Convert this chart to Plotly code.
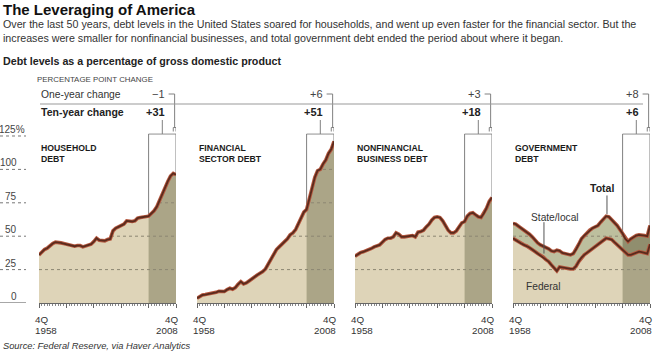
import plotly.graph_objects as go

# ---------------- data (percent of GDP, 4Q of each year) ----------------
YEARS = list(range(1958, 2009))

HOUSEHOLD = [36, 38, 40, 41, 43, 44.5, 45.5, 45.5, 45, 44.5,
             44, 43.5, 43, 42.5, 43, 43, 42, 42.5, 43.5, 44,
             46, 48.5, 47, 46.5, 46.5, 47.5, 48, 54, 56, 57,
             58, 59, 61.5, 61, 61, 61.5, 63.5, 64, 64.5, 64.8,
             65, 67, 69, 72, 77, 82, 87, 91, 95, 97, 96]

FINANCIAL = [3.5, 5, 6, 6.3, 6.6, 7, 7.3, 8, 8.8, 8.7,
             8.6, 10, 11, 10.3, 11.5, 14, 16, 14.3, 15, 16.5,
             17.7, 19.5, 21, 22, 23.5, 25.5, 29, 33, 37, 40,
             42, 44, 46, 48, 51, 52.5, 55, 59, 64, 68,
             70, 78, 87, 94, 99, 100, 104, 107, 112, 115, 121]

NONFINANCIAL = [35, 36.5, 37.7, 38.3, 39, 40, 40.8, 42, 43, 43.5,
                45.5, 47.5, 48.5, 48.5, 49.5, 52.5, 51.5, 49.5, 49.5, 49.8,
                50, 50.5, 49.5, 53, 53.5, 54.5, 57, 59, 62, 64,
                64.5, 64, 61.5, 58, 54.5, 52.5, 52.5, 54, 57, 60,
                61, 65, 67, 67.5, 66, 64.5, 64, 67, 71, 76, 79]

GOV_TOTAL = [59.6, 59, 57.5, 56, 54.5, 53.4, 51.5, 49.5, 47, 45,
             43.5, 42.5, 42, 40.5, 39, 38.5, 39.5, 39, 37.5, 37,
             36.5, 36, 37, 40, 44, 48, 50.5, 52.5, 54.5, 56,
             57, 58, 60.5, 63, 65, 64.5, 62.5, 60, 58, 55,
             52, 48, 46, 48, 49.5, 50.5, 51, 51, 50.5, 50, 58]

GOV_FEDERAL = [48.4, 47, 45.5, 44.5, 43.5, 42.7, 41.5, 40, 38.5, 37,
               36, 34.5, 32.5, 31, 28.5, 26.5, 24, 27, 26.5, 26,
               26, 25.5, 25.5, 27.5, 31, 34, 36, 37.5, 39, 41,
               42.5, 43.5, 45.5, 47, 48.5, 48, 47.5, 45.5, 43.5, 41.5,
               40, 38, 36, 36, 37, 38, 38.5, 38, 37.5, 37, 44]

PANEL_TITLES = ["HOUSEHOLD<br>DEBT", "FINANCIAL<br>SECTOR DEBT",
                "NONFINANCIAL<br>BUSINESS DEBT", "GOVERNMENT<br>DEBT"]
ONE_YEAR = ["\u22121", "+6", "+3", "+8"]
TEN_YEAR = ["+31", "+51", "+18", "+6"]
Y_TICKS = [0, 25, 50, 75, 100, 125]
Y_TICK_TEXT = ["0", "25", "50", "75", "100", "125%"]
GRID_LEVELS = [25, 50, 75, 100]

# ---------------- styling / geometry ----------------
W, H = 660, 353
FONT = "Liberation Sans, Arial, sans-serif"
TAN = "#ded4b8"
TAN_DARK = "#aba587"
BAND = "#bdbf9e"
BAND_DARK = "#908e6e"
LINE_OUT = "#b5583f"
LINE_IN = "#5a2b1d"
GRID_C = "#8c8672"
GRAY = "#808080"

PANEL_PX = [(39, 176), (197, 334), (355, 492), (513, 650)]
Y0_PX, SCALE = 303, 1.336           # pixel of 0 %, pixels per percentage point
Y_MAX = 127
BOX_TOP = 126.5
Y_DOMAIN = [(H - Y0_PX) / H, (H - (Y0_PX - Y_MAX * SCALE)) / H]


def px(x):
    return x / W


def py(y):
    return 1 - y / H


fig = go.Figure()
shapes = []
ann = []

series_list = [HOUSEHOLD, FINANCIAL, NONFINANCIAL, GOV_TOTAL]
start10 = YEARS.index(YEARS[-1] - 10)

for i in range(4):
    xa = "x" if i == 0 else f"x{i + 1}"
    ya = "y" if i == 0 else f"y{i + 1}"
    top = series_list[i]
    yrs10 = YEARS[start10:]

    # base fills
    if i < 3:
        fig.add_trace(go.Scatter(x=YEARS, y=top, xaxis=xa, yaxis=ya, mode="lines",
                                 line=dict(width=0), fill="tozeroy", fillcolor=TAN,
                                 hoverinfo="skip"))
        fig.add_trace(go.Scatter(x=yrs10, y=top[start10:], xaxis=xa, yaxis=ya, mode="lines",
                                 line=dict(width=0), fill="tozeroy", fillcolor=TAN_DARK,
                                 hoverinfo="skip"))
    else:
        fig.add_trace(go.Scatter(x=YEARS, y=GOV_FEDERAL, xaxis=xa, yaxis=ya, mode="lines",
                                 line=dict(width=0), fill="tozeroy", fillcolor=TAN,
                                 hoverinfo="skip"))
        fig.add_trace(go.Scatter(x=YEARS, y=GOV_TOTAL, xaxis=xa, yaxis=ya, mode="lines",
                                 line=dict(width=0), fill="tonexty", fillcolor=BAND,
                                 hoverinfo="skip"))
        fig.add_trace(go.Scatter(x=yrs10, y=GOV_FEDERAL[start10:], xaxis=xa, yaxis=ya,
                                 mode="lines", line=dict(width=0), fill="tozeroy",
                                 fillcolor=TAN_DARK, hoverinfo="skip"))
        fig.add_trace(go.Scatter(x=yrs10, y=GOV_TOTAL[start10:], xaxis=xa, yaxis=ya,
                                 mode="lines", line=dict(width=0), fill="tonexty",
                                 fillcolor=BAND_DARK, hoverinfo="skip"))

    # dotted gridlines (later covered above the curve)
    for g in GRID_LEVELS:
        fig.add_trace(go.Scatter(x=[YEARS[0], YEARS[-1]], y=[g, g], xaxis=xa, yaxis=ya,
                                 mode="lines", line=dict(color=GRID_C, width=1, dash="dot"),
                                 hoverinfo="skip"))

    # white cover above the top curve
    fig.add_trace(go.Scatter(x=YEARS, y=top, xaxis=xa, yaxis=ya, mode="lines",
                             line=dict(width=0), hoverinfo="skip"))
    fig.add_trace(go.Scatter(x=YEARS, y=[Y_MAX] * len(YEARS), xaxis=xa, yaxis=ya,
                             mode="lines", line=dict(width=0), fill="tonexty",
                             fillcolor="white", hoverinfo="skip"))

    # ten-year box
    fig.add_trace(go.Scatter(x=[YEARS[start10], YEARS[start10], YEARS[-1], YEARS[-1]],
                             y=[top[start10], BOX_TOP, BOX_TOP, top[-1]],
                             xaxis=xa, yaxis=ya, mode="lines",
                             line=dict(color=GRAY, width=1), hoverinfo="skip"))

    # data lines
    lines = [top] if i < 3 else [GOV_FEDERAL, GOV_TOTAL]
    for s in lines:
        fig.add_trace(go.Scatter(x=YEARS, y=s, xaxis=xa, yaxis=ya, mode="lines",
                                 line=dict(color=LINE_OUT, width=3.6), hoverinfo="skip"))
        fig.add_trace(go.Scatter(x=YEARS, y=s, xaxis=xa, yaxis=ya, mode="lines",
                                 line=dict(color=LINE_IN, width=1.8), hoverinfo="skip"))

    x0, x1 = PANEL_PX[i]
    key = "xaxis" if i == 0 else f"xaxis{i + 1}"
    ykey = "yaxis" if i == 0 else f"yaxis{i + 1}"
    fig.layout[key] = dict(domain=[px(x0), px(x1)], range=[YEARS[0], YEARS[-1]],
                           anchor=ya, showgrid=False, zeroline=False,
                           showticklabels=False, showline=True, linecolor="#666",
                           linewidth=1, ticks="outside", tick0=YEARS[0], dtick=10,
                           ticklen=4, tickcolor="#666",
                           minor=dict(dtick=1, ticklen=2, tickcolor="#888", ticks="outside"),
                           fixedrange=True)
    fig.layout[ykey] = dict(domain=Y_DOMAIN, range=[0, Y_MAX], anchor=xa, visible=False,
                            fixedrange=True)

    # panel title
    ann.append(dict(xref=xa + " domain", yref="paper", x=0, y=py(141), xanchor="left",
                    yanchor="top", align="left", showarrow=False,
                    text=f"<b>{PANEL_TITLES[i]}</b>",
                    font=dict(family=FONT, size=8.7, color="#1a1a1a")))
    # year labels
    for lx, anchor, yr in ((x0 - 6, "left", YEARS[0]), (x1 + 4, "right", YEARS[-1])):
        ann.append(dict(xref="paper", yref="paper", x=px(lx), y=py(319), xanchor=anchor,
                        yanchor="middle", showarrow=False, text="4Q",
                        font=dict(family=FONT, size=9.8, color="#333")))
        ann.append(dict(xref="paper", yref="paper", x=px(lx), y=py(330), xanchor=anchor,
                        yanchor="middle", showarrow=False, text=f"{yr}",
                        font=dict(family=FONT, size=9.8, color="#333")))

    # change values
    lab_x = YEARS[-1] - 3.3
    ann.append(dict(xref=xa, yref="paper", x=lab_x, y=py(94), xanchor="right",
                    yanchor="middle", showarrow=False, text=ONE_YEAR[i],
                    font=dict(family=FONT, size=11, color="#444")))
    ann.append(dict(xref=xa, yref="paper", x=lab_x, y=py(112), xanchor="right",
                    yanchor="middle", showarrow=False, text=f"<b>{TEN_YEAR[i]}</b>",
                    font=dict(family=FONT, size=11, color="#222")))

    # connectors
    mid10 = (YEARS[start10] + YEARS[-1]) / 2
    shapes.append(dict(type="line", xref=xa, yref="paper", x0=mid10, x1=mid10,
                       y0=py(120), y1=py(134), line=dict(color=GRAY, width=1)))
    x_one = YEARS[-1] - 0.5
    shapes.append(dict(type="line", xref=xa, yref="paper", x0=lab_x + 0.6, x1=x_one,
                       y0=py(94), y1=py(94), line=dict(color=GRAY, width=1)))
    shapes.append(dict(type="line", xref=xa, yref="paper", x0=x_one, x1=x_one,
                       y0=py(94), y1=py(127.5), line=dict(color=GRAY, width=1)))
    shapes.append(dict(type="path", xref=xa, yref="paper",
                       path=f"M {YEARS[-2]},{py(131.5)} L {YEARS[-2]},{py(127.5)} "
                            f"L {YEARS[-1]},{py(127.5)} L {YEARS[-1]},{py(131.5)}",
                       line=dict(color=GRAY, width=1)))

# y labels at left
for v, t in zip(Y_TICKS, Y_TICK_TEXT):
    xr = 27 if t.endswith("%") else 19
    ann.append(dict(xref="paper", yref="y", x=px(xr), y=v, xanchor="right",
                    yanchor="bottom", yshift=-1, showarrow=False, text=t,
                    font=dict(family=FONT, size=10, color="#444")))
    shapes.append(dict(type="line", xref="paper", yref="y", x0=0, x1=px(26), y0=v, y1=v,
                       line=dict(color="#777" if v else "#555", width=1,
                                 dash="dot" if v else "solid")))

# government labels
ann.append(dict(xref="x4", yref="y4", x=1990.5, y=86, showarrow=False,
                text="<b>Total</b>", font=dict(family=FONT, size=10.5, color="#222")))
shapes.append(dict(type="line", xref="x4", yref="y4", x0=1992.3, x1=1992.3, y0=80.5,
                   y1=66.5, line=dict(color="#555", width=1)))
ann.append(dict(xref="x4", yref="y4", x=1973.3, y=63.8, showarrow=False,
                text="State/local", font=dict(family=FONT, size=10.2, color="#333")))
shapes.append(dict(type="line", xref="x4", yref="y4", x0=1969.3, x1=1969.3, y0=60.5,
                   y1=37, line=dict(color="#555", width=1)))
ann.append(dict(xref="x4", yref="y4", x=1969.3, y=12, showarrow=False,
                text="Federal", font=dict(family=FONT, size=10.2, color="#333")))

# header texts
ann += [
    dict(xref="paper", yref="paper", x=px(1), y=py(9), xanchor="left", yanchor="middle",
         showarrow=False, text="<b>The Leveraging of America</b>",
         font=dict(family=FONT, size=15, color="#111")),
    dict(xref="paper", yref="paper", x=px(1), y=py(23.5), xanchor="left", yanchor="middle",
         showarrow=False,
         text="Over the last 50 years, debt levels in the United States soared for households, "
              "and went up even faster for the financial sector. But the",
         font=dict(family=FONT, size=10.7, color="#333")),
    dict(xref="paper", yref="paper", x=px(1), y=py(38), xanchor="left", yanchor="middle",
         showarrow=False,
         text="increases were smaller for nonfinancial businesses, and total government debt "
              "ended the period about where it began.",
         font=dict(family=FONT, size=10.7, color="#333")),
    dict(xref="paper", yref="paper", x=px(1), y=py(61), xanchor="left", yanchor="middle",
         showarrow=False, text="<b>Debt levels as a percentage of gross domestic product</b>",
         font=dict(family=FONT, size=10.7, color="#222")),
    dict(xref="paper", yref="paper", x=px(35), y=py(79), xanchor="left", yanchor="middle",
         showarrow=False, text="PERCENTAGE POINT CHANGE",
         font=dict(family=FONT, size=7.9, color="#444")),
    dict(xref="paper", yref="paper", x=px(39), y=py(94), xanchor="left", yanchor="middle",
         showarrow=False, text="One-year change",
         font=dict(family=FONT, size=10.3, color="#333")),
    dict(xref="paper", yref="paper", x=px(39), y=py(112), xanchor="left", yanchor="middle",
         showarrow=False, text="<b>Ten-year change</b>",
         font=dict(family=FONT, size=10.5, color="#222")),
    dict(xref="paper", yref="paper", x=px(1), y=py(346), xanchor="left", yanchor="middle",
         showarrow=False, text="<i>Source: Federal Reserve, via Haver Analytics</i>",
         font=dict(family=FONT, size=9.3, color="#333")),
]
shapes.append(dict(type="line", xref="paper", yref="paper", x0=px(40), x1=px(643),
                   y0=py(104), y1=py(104), line=dict(color="#999", width=1)))

fig.update_layout(width=W, height=H, margin=dict(l=0, r=0, t=0, b=0),
                  paper_bgcolor="white", plot_bgcolor="white", showlegend=False,
                  annotations=ann, shapes=shapes)

fig.write_html("out.html", config={"displayModeBar": False})
